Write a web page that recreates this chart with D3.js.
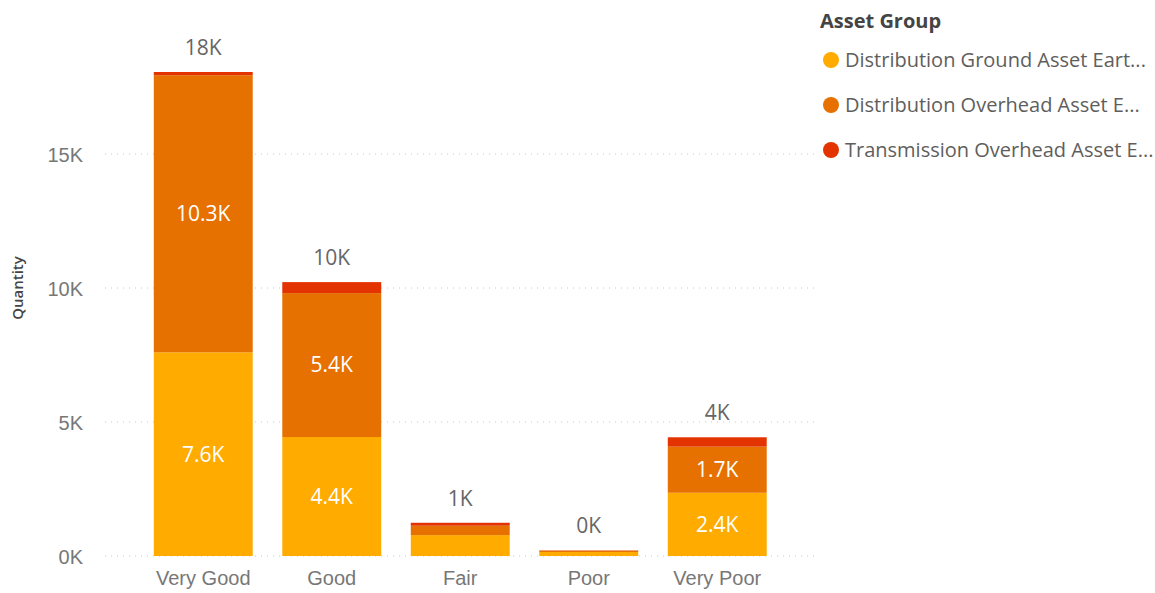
<!DOCTYPE html>
<html>
<head>
<meta charset="utf-8">
<script src="https://cdn.jsdelivr.net/npm/d3@7"></script>
<style>
  body { margin: 0; background: #fff; }
  svg { font-family: "Segoe UI", "Open Sans", sans-serif; }
  .grid line { stroke: #c8c8c8; stroke-dasharray: 1 5; }
  .axis text { fill: #777; font-size: 20px; }
  .axis path, .axis line { display: none; }
</style>
</head>
<body>
<div id="chart"></div>
<script>
// ------------------------------------------
//  Data (thousands)
// ------------------------------------------
const conditions = ["Very Good", "Good", "Fair", "Poor", "Very Poor"]
const groups = ["Distribution Ground Asset Eart...", "Distribution Overhead Asset E...", "Transmission Overhead Asset E..."]
const groundAsset = [7.6, 4.44, 0.78, 0.15, 2.36]
const overheadAsset = [10.34, 5.37, 0.35, 0.05, 1.72]
const transmissionAsset = [0.12, 0.41, 0.11, 0.01, 0.35]
const yTicks = [0, 5, 10, 15]
const colors = ["#ffab00", "#e67100", "#e23300"]

// ------------------------------------------
//  Chart
// ------------------------------------------
function drawChart() {
    const width = 1155, height = 593
    const svg = d3.select("#chart").append("svg")
        .attr("width", width).attr("height", height)

    const table = conditions.map((c, i) => ({
        condition: c,
        [groups[0]]: groundAsset[i],
        [groups[1]]: overheadAsset[i],
        [groups[2]]: transmissionAsset[i]
    }))
    const series = d3.stack().keys(groups)(table)

    const x = d3.scaleBand().domain(conditions).range([139, 781.5])
        .paddingInner(0.23).paddingOuter(0.115)
    const y = d3.scaleLinear().domain([0, 15]).range([556, 154])

    // grid
    svg.append("g").attr("class", "grid")
        .selectAll("line").data(yTicks).enter().append("line")
        .attr("x1", 105).attr("x2", 815)
        .attr("y1", d => y(d)).attr("y2", d => y(d))

    // y axis
    svg.append("g").attr("class", "axis")
        .attr("transform", "translate(86,0)")
        .call(d3.axisLeft(y).tickValues(yTicks).tickSize(0).tickFormat(d => d + "K"))
        .selectAll("text").attr("dy", "0.35em")

    svg.append("text")
        .attr("transform", "translate(23,288) rotate(-90)")
        .attr("text-anchor", "middle")
        .attr("font-size", 15).attr("font-weight", 600).attr("fill", "#444")
        .text("Quantity")

    // x axis
    svg.append("g").attr("class", "axis")
        .attr("transform", "translate(0,567)")
        .call(d3.axisBottom(x).tickSize(0))
        .selectAll("text").attr("dy", "0.75em")

    // bars
    const layer = svg.selectAll(".layer").data(series).enter().append("g")
        .attr("class", "layer").attr("fill", (d, i) => colors[i])

    layer.selectAll("rect").data(d => d).enter().append("rect")
        .attr("x", d => x(d.data.condition))
        .attr("width", x.bandwidth())
        .attr("y", d => y(d[1]))
        .attr("height", d => y(d[0]) - y(d[1]))

    // segment labels
    layer.selectAll(".seg").data(d => d.filter(s => y(s[0]) - y(s[1]) > 30)).enter()
        .append("text")
        .attr("x", d => x(d.data.condition) + x.bandwidth() / 2)
        .attr("y", d => (y(d[0]) + y(d[1])) / 2)
        .attr("dy", "0.35em")
        .attr("text-anchor", "middle")
        .attr("fill", "#fff").attr("font-size", 21)
        .text(d => (d[1] - d[0]).toFixed(1) + "K")

    // totals
    const top = series[series.length - 1]
    svg.selectAll(".total").data(top).enter().append("text")
        .attr("x", d => x(d.data.condition) + x.bandwidth() / 2)
        .attr("y", d => y(d[1]) - 17)
        .attr("text-anchor", "middle")
        .attr("fill", "#666").attr("font-size", 21)
        .text(d => Math.round(d[1]) + "K")

    // legend
    const legend = svg.append("g").attr("transform", "translate(820,0)")
    legend.append("text").attr("x", 0).attr("y", 28)
        .attr("font-size", 20).attr("font-weight", 700).attr("fill", "#444")
        .text("Asset Group")
    const item = legend.selectAll(".item").data(groups).enter().append("g")
        .attr("transform", (d, i) => `translate(0,${60 + i * 45})`)
    item.append("circle").attr("cx", 11).attr("cy", 0).attr("r", 8)
        .attr("fill", (d, i) => colors[i])
    item.append("text").attr("x", 25).attr("dy", "0.35em")
        .attr("font-size", 20).attr("fill", "#605e5c")
        .text(d => d)
}

drawChart()
</script>
</body>
</html>
